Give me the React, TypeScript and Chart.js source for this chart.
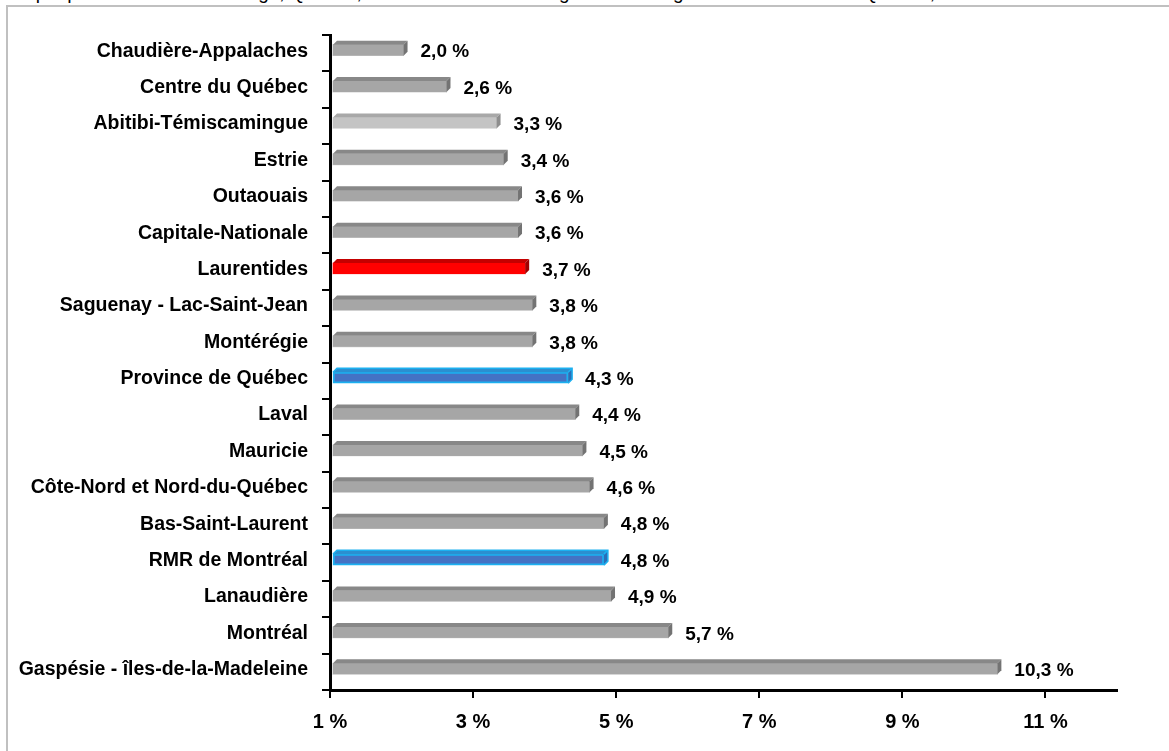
import { useEffect, useRef } from "react";
import { Chart, registerables } from "chart.js";

Chart.register(...registerables);

const categories = [
  "Chaudière-Appalaches",
  "Centre du Québec",
  "Abitibi-Témiscamingue",
  "Estrie",
  "Outaouais",
  "Capitale-Nationale",
  "Laurentides",
  "Saguenay - Lac-Saint-Jean",
  "Montérégie",
  "Province de Québec",
  "Laval",
  "Mauricie",
  "Côte-Nord et Nord-du-Québec",
  "Bas-Saint-Laurent",
  "RMR de Montréal",
  "Lanaudière",
  "Montréal",
  "Gaspésie - îles-de-la-Madeleine",
];

const rates = [2.0, 2.6, 3.3, 3.4, 3.6, 3.6, 3.7, 3.8, 3.8, 4.3, 4.4, 4.5, 4.6, 4.8, 4.8, 4.9, 5.7, 10.3];

const xTickValues = [1, 3, 5, 7, 9, 11];
const xMin = 1;
const xMax = 12;

const redRegions = ["Laurentides"];
const blueRegions = ["Province de Québec", "RMR de Montréal"];
const lightRegions = ["Abitibi-Témiscamingue"];

const titleText =
  "Graphique 1 – Taux de chômage, Québec, 2008 – Taux de chômage selon la région administrative du Québec, %";

const FONT = "'Liberation Sans', Arial, Helvetica, sans-serif";

type Faces = { front: string; top: string; side: string; border: string; borderWidth: number };

function facesFor(name: string): Faces {
  if (redRegions.includes(name)) return { front: "#ff0000", top: "#c40000", side: "#a00000", border: "#ff0000", borderWidth: 0 };
  if (blueRegions.includes(name)) return { front: "#4472c4", top: "#2b8fd0", side: "#2a6fb8", border: "#1cb0f0", borderWidth: 2 };
  if (lightRegions.includes(name)) return { front: "#c4c4c4", top: "#a8a8a8", side: "#8e8e8e", border: "#c4c4c4", borderWidth: 0 };
  return { front: "#a6a6a6", top: "#888888", side: "#737373", border: "#a6a6a6", borderWidth: 0 };
}

const fmt = (v: number) => v.toFixed(1).replace(".", ",") + " %";

const SHIFT_X = 2;
const SHIFT_Y = -3;
const DEPTH = 4;

const bar3dPlugin = {
  id: "bar3d",
  beforeDatasetsDraw(chart: any) {
    chart.ctx.save();
    chart.ctx.translate(SHIFT_X, SHIFT_Y);
  },
  afterDatasetsDraw(chart: any) {
    const ctx = chart.ctx as CanvasRenderingContext2D;
    const meta = chart.getDatasetMeta(0);
    meta.data.forEach((el: any, i: number) => {
      const { x, y, base, height } = el.getProps(["x", "y", "base", "height"], true);
      const top = y - height / 2;
      const bot = y + height / 2;
      const f = facesFor(categories[i]);
      ctx.beginPath();
      ctx.moveTo(base, top);
      ctx.lineTo(x, top);
      ctx.lineTo(x + DEPTH, top - DEPTH);
      ctx.lineTo(base + DEPTH, top - DEPTH);
      ctx.closePath();
      ctx.fillStyle = f.top;
      ctx.fill();
      ctx.beginPath();
      ctx.moveTo(x, top);
      ctx.lineTo(x + DEPTH, top - DEPTH);
      ctx.lineTo(x + DEPTH, bot - DEPTH);
      ctx.lineTo(x, bot);
      ctx.closePath();
      ctx.fillStyle = f.side;
      ctx.fill();
      if (f.borderWidth > 0) {
        ctx.strokeStyle = f.border;
        ctx.lineWidth = 1.5;
        ctx.beginPath();
        ctx.moveTo(base, top);
        ctx.lineTo(base + DEPTH, top - DEPTH);
        ctx.lineTo(x + DEPTH, top - DEPTH);
        ctx.lineTo(x + DEPTH, bot - DEPTH);
        ctx.lineTo(x, bot);
        ctx.moveTo(x, top);
        ctx.lineTo(x + DEPTH, top - DEPTH);
        ctx.stroke();
      } else {
        ctx.strokeStyle = "rgba(255,255,255,0.55)";
        ctx.lineWidth = 1;
        ctx.beginPath();
        ctx.moveTo(base, bot + 0.5);
        ctx.lineTo(x, bot + 0.5);
        ctx.stroke();
      }
    });
    ctx.restore();

    ctx.save();
    ctx.font = `bold 19px ${FONT}`;
    ctx.fillStyle = "#000";
    ctx.textAlign = "left";
    ctx.textBaseline = "middle";
    meta.data.forEach((el: any, i: number) => {
      const { x, y } = el.getProps(["x", "y"], true);
      ctx.fillText(fmt(rates[i]), x + 19, y - 1);
    });
    ctx.restore();
  },
};

export default function App() {
  const canvasRef = useRef<HTMLCanvasElement | null>(null);

  useEffect(() => {
    if (!canvasRef.current) return;
    const faces = categories.map(facesFor);
    const chart = new Chart(canvasRef.current, {
      type: "bar",
      data: {
        labels: categories,
        datasets: [
          {
            data: rates,
            base: xMin,
            backgroundColor: faces.map((f) => f.front),
            borderColor: faces.map((f) => f.border),
            borderWidth: faces.map((f) => f.borderWidth),
            borderSkipped: false,
            barThickness: 11,
          } as any,
        ],
      },
      options: {
        indexAxis: "y",
        animation: false,
        responsive: false,
        maintainAspectRatio: false,
        layout: { padding: { top: 35, right: 52, bottom: 0, left: 0 } },
        plugins: {
          legend: { display: false },
          tooltip: { enabled: false },
          title: { display: false },
        },
        scales: {
          x: {
            type: "linear",
            min: xMin,
            max: xMax,
            afterBuildTicks: (s: any) => {
              s.ticks = xTickValues.map((v) => ({ value: v }));
            },
            afterFit: (s: any) => {
              s.height = 61;
            },
            grid: { drawOnChartArea: false, drawTicks: true, tickLength: 8, color: "#000", lineWidth: 2 },
            border: { display: true, color: "#000", width: 3 },
            ticks: {
              color: "#000",
              padding: 12,
              font: { family: FONT, size: 20, weight: "bold" },
              callback: (v: any) => `${v} %`,
            },
          },
          y: {
            afterFit: (s: any) => {
              s.width = 330;
            },
            grid: { drawOnChartArea: false, drawTicks: true, tickLength: 8, color: "#000", lineWidth: 2, offset: true },
            border: { display: true, color: "#000", width: 3 },
            ticks: {
              color: "#000",
              padding: 14,
              autoSkip: false,
              labelOffset: -2,
              font: { family: FONT, size: 19.5, weight: "bold" },
            },
          },
        },
      } as any,
      plugins: [bar3dPlugin],
    });
    return () => chart.destroy();
  }, []);

  return (
    <div style={{ position: "fixed", left: 0, top: 0, width: 1169, height: 751, overflow: "hidden", background: "#fff" }}>
      <div
        style={{
          position: "absolute",
          left: 4,
          top: -17,
          whiteSpace: "nowrap",
          font: `19px ${FONT}`,
          lineHeight: "19px",
          color: "#000",
        }}
      >
        {titleText}
      </div>
      <div
        style={{
          position: "absolute",
          left: 6,
          top: 5,
          width: 1250,
          height: 850,
          border: "2px solid #c0c0c0",
          boxSizing: "border-box",
        }}
      />
      <canvas
        ref={canvasRef}
        width={1169}
        height={751}
        style={{ position: "absolute", left: 0, top: 0, width: 1169, height: 751, display: "block" }}
      />
    </div>
  );
}
